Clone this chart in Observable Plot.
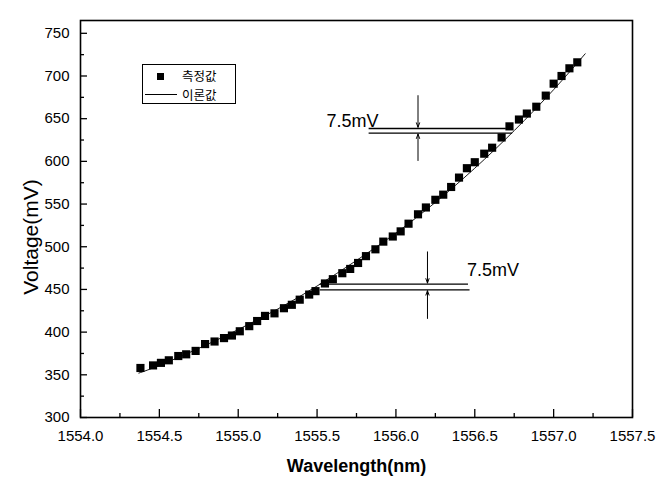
<!DOCTYPE html>
<html><head><meta charset="utf-8">
<script src="https://cdn.jsdelivr.net/npm/d3@7"></script>
<script src="https://cdn.jsdelivr.net/npm/@observablehq/plot@0.6"></script>
<style>
body{margin:0;background:#fff;}
#wrap{position:relative;width:672px;height:478px;font-family:"Liberation Sans",Arial,sans-serif;}
.lg{position:absolute;}
.lgt{position:absolute;font-family:"Noto Sans CJK KR",sans-serif;font-size:12.5px;line-height:12.5px;color:#000;}
.ylab{position:absolute;font-family:"Liberation Sans",Arial,sans-serif;font-size:21px;line-height:21px;color:#000;white-space:nowrap;transform:translate(-50%,-50%) rotate(-90deg);}
</style></head><body><div id="wrap"></div>
<script>
// measured points
const wavelength = [1554.38,1554.46,1554.51,1554.56,1554.62,1554.67,1554.73,1554.79,1554.85,1554.91,
  1554.96,1555.01,1555.07,1555.12,1555.17,1555.23,1555.29,1555.34,1555.39,1555.45,
  1555.49,1555.55,1555.60,1555.66,1555.71,1555.76,1555.81,1555.87,1555.92,1555.98,
  1556.03,1556.08,1556.14,1556.19,1556.25,1556.30,1556.35,1556.40,1556.45,1556.50,
  1556.56,1556.61,1556.67,1556.72,1556.78,1556.83,1556.89,1556.95,1557.00,1557.05,
  1557.10,1557.15];
const voltage = [358,361,364,367,372,374,378,386,389,393,
  396,401,407,413,419,422,428,432,438,444,
  448,457,462,469,474,481,489,497,506,512,
  518,527,538,546,555,561,570,581,592,599,
  609,616,628,641,649,656,664,677,691,700,
  709,716];
// theoretical curve
const theoryWavelength = [1554.37,1554.5,1554.75,1555.0,1555.25,1555.5,1555.75,1556.0,1556.25,1556.5,1556.75,1557.0,1557.2];
const theoryVoltage = [352,361,381,403,427,454,484,516,552,592,636,684,726];
// ticks
const xTicks = [1554.0,1554.5,1555.0,1555.5,1556.0,1556.5,1557.0,1557.5];
const xMinor = [1554.25,1554.75,1555.25,1555.75,1556.25,1556.75,1557.25];
const yTicks = [300,350,400,450,500,550,600,650,700,750];
const yMinor = [325,375,425,475,525,575,625,675,725];
// 7.5 mV gap annotations
const gapLineY = [638.5,633,456.3,449.5];
const gapLineX1 = [1555.83,1555.83,1555.52,1555.52];
const gapLineX2 = [1556.70,1556.74,1556.46,1556.47];
const arrowX = [1556.14,1556.14,1556.20,1556.20];
const arrowFrom = [677,601,494,416];
const arrowTo = [640,632,457.5,448.5];
const gapLabelX = [1555.56,1556.45];
const gapLabelY = [640.7,466.3];
const gapLabelText = ["7.5mV","7.5mV"];
const legendLabels = ["측정값","이론값"];
const xLabel = "Wavelength(nm)";
const yLabel = "Voltage(mV)";

const pts = wavelength.map((x,i)=>({x, y:voltage[i]}));
const theory = theoryWavelength.map((x,i)=>({x, y:theoryVoltage[i]}));
const gapLines = gapLineY.map((y,i)=>({y, x1:gapLineX1[i], x2:gapLineX2[i]}));
const arrows = arrowX.map((x,i)=>({x, y1:arrowFrom[i], y2:arrowTo[i]}));
const labels = gapLabelX.map((x,i)=>({x, y:gapLabelY[i], t:gapLabelText[i]}));

const FONT = "Liberation Sans, Arial, sans-serif";
const plot = Plot.plot({
  width: 672, height: 478,
  marginLeft: 80, marginRight: 40, marginTop: 20, marginBottom: 61,
  x: {domain: [1554, 1557.5]},
  y: {domain: [300, 765]},
  style: {fontFamily: FONT, fontSize: "15px", color: "#000", background: "#fff"},
  marks: [
    Plot.axisX({ticks: xTicks, tickSize: 0, tickPadding: 13, tickFormat: d => d.toFixed(1), label: null, fontSize: 15}),
    Plot.axisY({ticks: yTicks, tickSize: 0, tickPadding: 11, label: null, fontSize: 15}),
    Plot.tickX(xTicks, {x: d => d, insetTop: 389, stroke: "#000", strokeWidth: 1.3}),
    Plot.tickX(xMinor, {x: d => d, insetTop: 393, stroke: "#000", strokeWidth: 1.3}),
    Plot.tickY(yTicks, {y: d => d, insetRight: 545, stroke: "#000", strokeWidth: 1.3}),
    Plot.tickY(yMinor, {y: d => d, insetRight: 548, stroke: "#000", strokeWidth: 1.3}),
    Plot.line(theory, {x: "x", y: "y", curve: "natural", stroke: "#000", strokeWidth: 0.9}),
    Plot.dot(pts, {x: "x", y: "y", symbol: "square", r: 4.6, fill: "#000", stroke: "none"}),
    Plot.ruleY(gapLines, {y: "y", x1: "x1", x2: "x2", stroke: "#000", strokeWidth: 1.3}),
    Plot.arrow(arrows, {x1: "x", x2: "x", y1: "y1", y2: "y2", stroke: "#000", strokeWidth: 1, headLength: 7, headAngle: 40}),
    Plot.text(labels, {x: "x", y: "y", text: "t", textAnchor: "start", lineAnchor: "bottom", fontSize: 18, fill: "#000"}),
    Plot.text([xLabel], {text: d => d, frameAnchor: "bottom", dy: 54, lineAnchor: "bottom", fontSize: 18, fontWeight: "bold", fill: "#000"}),
    Plot.frame({stroke: "#000", strokeWidth: 1.6})
  ]
});
const wrap = document.getElementById("wrap");
wrap.appendChild(plot);

function el(cls, css, txt){const d=document.createElement("div");d.className=cls;Object.assign(d.style,css);if(txt)d.textContent=txt;wrap.appendChild(d);return d;}
// y-axis title
el("ylab",{left:"30px",top:"237px"},yLabel);
// legend overlay
el("lg",{left:"142px",top:"64px",width:"94px",height:"40px",border:"1px solid #000",boxSizing:"border-box"});
el("lg",{left:"157px",top:"73px",width:"7px",height:"7px",background:"#000"});
el("lgt",{left:"182px",top:"70px"},legendLabels[0]);
el("lg",{left:"145px",top:"94px",width:"32px",height:"1px",background:"#000"});
el("lgt",{left:"182px",top:"88.5px"},legendLabels[1]);
</script></body></html>
